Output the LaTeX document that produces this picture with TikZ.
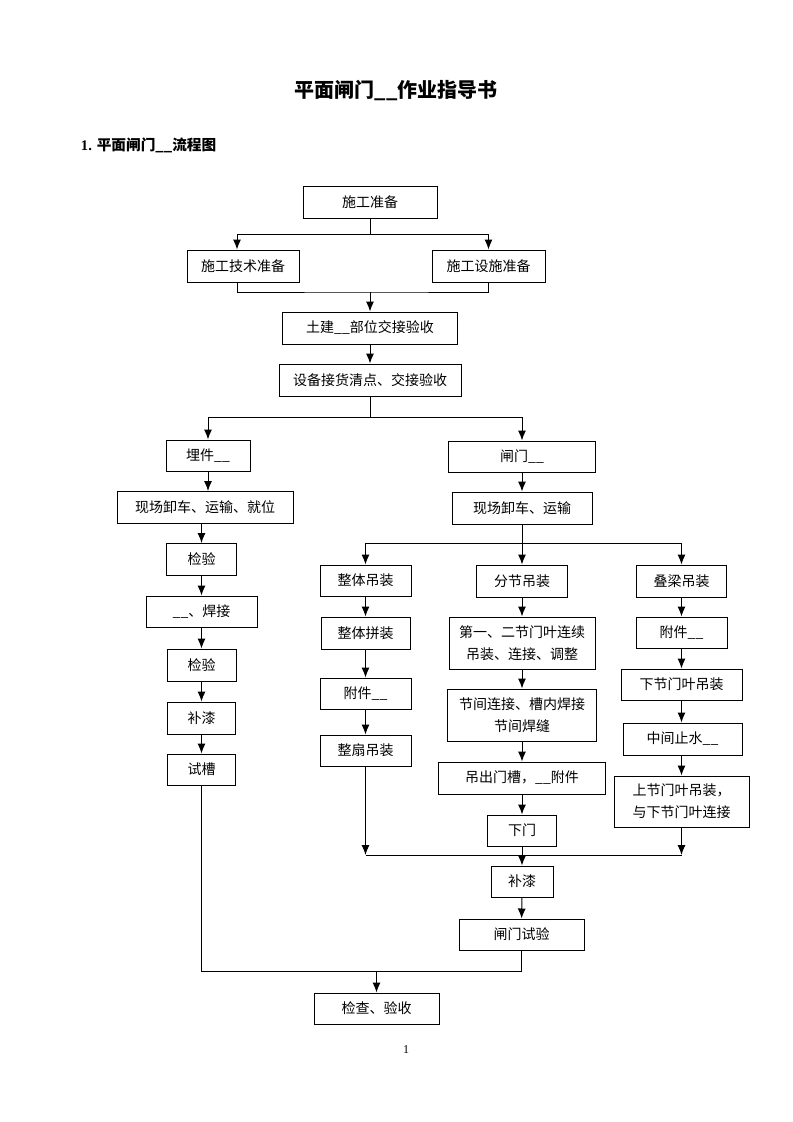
\documentclass[tikz,border=0pt]{standalone}
\usepackage{fontspec}
\setmainfont{Liberation Serif}
\newfontfamily\cjk{Noto Sans CJK SC}
\usetikzlibrary{arrows.meta}

\begin{document}
\begin{tikzpicture}[x=0.75pt,y=-0.75pt,->,>={Latex[length=7.5pt,width=6pt]},line width=0.75pt,
	box/.style={rectangle,draw,align=center,inner sep=1pt,minimum height=24pt,font=\cjk\fontsize{10.5}{16.5}\selectfont},
	tallbox/.style={box,minimum height=39pt}]
	\useasboundingbox (0,0) rectangle (793,1122);
	% headings
	\node [font=\cjk\bfseries\fontsize{15}{18}\selectfont] (title) at (396,90) {平面闸门\_\_作业指导书};
	\node [anchor=west,font=\bfseries\fontsize{11}{13}\selectfont] (head) at (76,145) {1. {\cjk 平面闸门\_\_流程图}};
	\node [font=\fontsize{9}{10}\selectfont] (page) at (406,1050) {1};
	% top part
	\node [box,minimum width=100.5pt] (prep) at (370,202) {施工准备};
	\node [box,minimum width=84pt] (tech) at (243,266) {施工技术准备};
	\node [box,minimum width=84.75pt] (fac) at (488.5,266) {施工设施准备};
	\node [box,minimum width=131.25pt] (civil) at (370,328) {土建\_\_部位交接验收};
	\node [box,minimum width=136.5pt] (goods) at (370,380) {设备接货清点、交接验收};
	% embedded parts
	\node [box,minimum width=63pt,minimum height=23.25pt] (embed) at (208,455.5) {埋件\_\_};
	\node [box,minimum width=132pt] (site1) at (205,507.5) {现场卸车、运输、就位};
	\node [box,minimum width=52.5pt] (chk1) at (201.5,559.5) {检验};
	\node [box,minimum width=83.25pt,minimum height=23.25pt] (weld) at (201.5,611.5) {\_\_、焊接};
	\node [box,minimum width=51.75pt] (chk2) at (201.5,665) {检验};
	\node [box,minimum width=51pt] (paint1) at (201.5,718) {补漆};
	\node [box,minimum width=51pt,minimum height=23.25pt] (trial) at (201.5,769.5) {试槽};
	% gate
	\node [box,minimum width=110.25pt,minimum height=23.25pt] (gate) at (522,456.5) {闸门\_\_};
	\node [box,minimum width=105pt] (site2) at (522,508) {现场卸车、运输};
	\node [box,minimum width=68.25pt,minimum height=23.25pt] (whole) at (365.5,580.5) {整体吊装};
	\node [box,minimum width=66.75pt] (assem) at (365.5,633) {整体拼装};
	\node [box,minimum width=68.25pt,minimum height=23.25pt] (att1) at (365.5,693.5) {附件\_\_};
	\node [box,minimum width=68.25pt,minimum height=23.25pt] (leaf) at (365.5,750.5) {整扇吊装};
	\node [box,minimum width=68.25pt] (sect) at (522,581) {分节吊装};
	\node [tallbox,minimum width=109.5pt] (first) at (522,643) {第一、二节门叶连续\\吊装、连接、调整};
	\node [tallbox,minimum width=111.75pt] (joint) at (522,715) {节间连接、槽内焊接\\节间焊缝};
	\node [box,minimum width=125.25pt] (lift) at (522,778) {吊出门槽，\_\_附件};
	\node [box,minimum width=51.75pt,minimum height=23.25pt] (lower) at (522,830.5) {下门};
	\node [box,minimum width=67.5pt] (stop) at (681.5,581) {叠梁吊装};
	\node [box,minimum width=68.25pt,minimum height=23.25pt] (att2) at (681.5,632.5) {附件\_\_};
	\node [box,minimum width=90.75pt,minimum height=23.25pt] (lowleaf) at (681.5,684.5) {下节门叶吊装};
	\node [box,minimum width=89.25pt] (water) at (682.5,739) {中间止水\_\_};
	\node [tallbox,minimum width=101.25pt,minimum height=38.25pt] (upleaf) at (681.5,801.5) {上节门叶吊装，\\与下节门叶连接};
	\node [box,minimum width=46.5pt,minimum height=23.25pt] (paint2) at (522,881.5) {补漆};
	\node [box,minimum width=93.75pt,minimum height=23.25pt] (test) at (521.5,934.5) {闸门试验};
	\node [box,minimum width=93.75pt,minimum height=23.25pt] (final) at (376.5,1008.5) {检查、验收};
	% junctions
	\coordinate (s1) at (370,234);
	\coordinate (m1) at (370,292);
	\coordinate (s2) at (370,417);
	\coordinate (s3) at (522,543);
	\coordinate (m2) at (522,855);
	\coordinate (m3) at (376.5,971);
	% connectors
	\draw[-] (prep) -- (s1);
	\draw (s1) -| ([xshift=-4.5pt]tech.north);
	\draw (s1) -| (fac);
	\draw[-] ([xshift=-4.5pt]tech.south) |- (m1) -| (fac.south);
	\draw (m1) -- (civil);
	\draw (civil) -- (goods);
	\draw[-] (goods) -- (s2);
	\draw (s2) -| (embed);
	\draw (s2) -| (gate);
	\draw (embed) -- (embed |- site1.north);
	\draw (chk1 |- site1.south) -- (chk1);
	\draw (chk1) -- (weld);
	\draw (weld) -- (chk2);
	\draw (chk2) -- (paint1);
	\draw (paint1) -- (trial);
	\draw (gate) -- (site2);
	\draw[-] (site2) -- (s3);
	\draw (s3) -| (whole);
	\draw (s3) -- (sect);
	\draw (s3) -| (stop);
	\draw (whole) -- (assem);
	\draw (assem) -- (att1);
	\draw (att1) -- (leaf);
	\draw (sect) -- (first);
	\draw (first) -- (joint);
	\draw (joint) -- (lift);
	\draw (lift) -- (lower);
	\draw (stop) -- (att2);
	\draw (att2) -- (lowleaf);
	\draw (lowleaf) -- (lowleaf |- water.north);
	\draw (lowleaf |- water.south) -- (lowleaf |- upleaf.north);
	\draw (leaf) -- (leaf |- m2);
	\draw (upleaf) -- (upleaf |- m2);
	\draw[-] (leaf |- m2) -- (upleaf |- m2);
	\draw (lower) -- (paint2);
	\draw (paint2) -- (test);
	\draw[-] (trial) |- (m3) -| (test);
	\draw (m3) -- (final);
\end{tikzpicture}
\end{document}
